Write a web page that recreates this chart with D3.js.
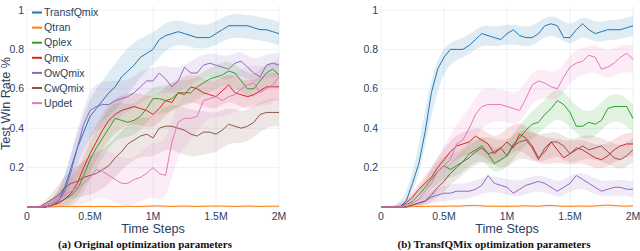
<!DOCTYPE html>
<html>
<head>
<meta charset="utf-8">
<script src="https://cdn.jsdelivr.net/npm/d3@7"></script>
<style>
  body { margin: 0; background: #fff; }
  svg { display: block; font-family: "Liberation Sans", Arial, sans-serif; }
</style>
</head>
<body>
<svg id="chart" width="640" height="251"></svg>
<script>
'use strict';

// time steps in millions, mean sampled every 50k, bands every 100k
const STEPS = d3.range(41).map(i => i * 0.05);
const BAND_STEPS = d3.range(21).map(i => i * 0.1);

const NAMES = ['TransfQmix', 'Qtran', 'Qplex', 'Qmix', 'OwQmix', 'CwQmix', 'Updet'];
const COLORS = ['#1f77b4', '#ff7f0e', '#2ca02c', '#d62728', '#9467bd', '#8c564b', '#e377c2'];
const X_TICKS = [0, 0.5, 1, 1.5, 2];
const X_TICK_LABELS = ['0', '0.5M', '1M', '1.5M', '2M'];
const Y_TICKS = [0.2, 0.4, 0.6, 0.8, 1];

// (a) original optimization parameters
const origTransfQmix = [0,0,0,0,.01,.03,.10,.20,.30,.38,.46,.50,.54,.58,.61,.66,.69,.72,.76,.78,.80,.85,.87,.88,.89,.88,.87,.86,.86,.86,.88,.90,.92,.92,.92,.92,.91,.90,.90,.89,.88];
const origQtran = [0,0,0,0,0,.002,.002,.003,.002,.003,.003,.002,.003,.003,.002,.003,.004,.003,.003,.004,.005,.006,.004,.003,.004,.005,.004,.003,.004,.005,.004,.005,.004,.003,.004,.005,.004,.003,.004,.004,.004];
const origQplex = [0,0,0,0,.01,.02,.04,.06,.09,.16,.24,.30,.35,.40,.45,.44,.43,.44,.46,.50,.55,.55,.54,.55,.58,.58,.58,.61,.63,.65,.66,.67,.69,.68,.64,.60,.60,.64,.68,.70,.67];
const origQmix = [0,0,0,0,.01,.02,.04,.07,.12,.20,.27,.33,.39,.44,.47,.49,.50,.51,.50,.49,.47,.50,.54,.53,.58,.57,.61,.60,.58,.57,.56,.59,.62,.58,.57,.56,.57,.59,.61,.61,.61];
const origOwQmix = [0,0,0,0,.01,.03,.08,.18,.30,.42,.49,.51,.52,.52,.54,.55,.56,.58,.61,.64,.64,.68,.65,.61,.64,.71,.68,.68,.72,.73,.72,.71,.70,.73,.74,.71,.68,.66,.72,.73,.72];
const origCwQmix = [0,0,0,.02,.04,.06,.10,.12,.13,.15,.16,.17,.19,.21,.25,.28,.32,.34,.36,.37,.35,.40,.41,.41,.40,.39,.37,.36,.38,.38,.37,.39,.42,.41,.40,.41,.43,.47,.48,.48,.48];
const origUpdet = [0,0,0,.01,.02,.04,.06,.08,.10,.12,.15,.19,.18,.16,.14,.12,.12,.14,.15,.17,.20,.17,.16,.33,.43,.45,.45,.46,.54,.55,.56,.54,.56,.57,.60,.62,.63,.58,.60,.62,.66];

const origTransfQmixBand = [0,0,.01,.05,.08,.10,.10,.12,.12,.10,.08,.07,.06,.06,.06,.06,.06,.06,.06,.06,.06];
const origQtranBand = [0,0,.003,.003,.003,.003,.003,.003,.003,.003,.003,.003,.003,.003,.003,.003,.003,.003,.003,.003,.003];
const origQplexBand = [0,0,.02,.05,.08,.10,.10,.10,.08,.08,.07,.07,.07,.06,.06,.06,.06,.06,.06,.06,.06];
const origQmixBand = [0,0,.02,.05,.08,.09,.09,.09,.08,.08,.08,.07,.07,.07,.07,.07,.07,.07,.07,.07,.07];
const origOwQmixBand = [0,0,.02,.06,.10,.12,.12,.10,.08,.08,.07,.07,.06,.06,.06,.06,.06,.06,.06,.06,.06];
const origCwQmixBand = [0,0,.03,.06,.08,.10,.10,.10,.10,.10,.10,.11,.12,.12,.11,.10,.09,.08,.08,.07,.07];
const origUpdetBand = [0,0,.02,.06,.10,.12,.12,.12,.12,.12,.14,.15,.14,.12,.10,.10,.10,.10,.10,.10,.10];

// (b) TransfQMix optimization parameters
const tunedTransfQmix = [0,0,0,0,.03,.12,.22,.38,.58,.70,.76,.80,.80,.80,.82,.85,.88,.87,.86,.85,.88,.90,.87,.86,.86,.88,.92,.93,.92,.86,.86,.90,.93,.90,.88,.89,.90,.90,.90,.91,.92];
const tunedQtran = [0,0,0,0,0,.002,.003,.003,.004,.004,.004,.005,.004,.006,.008,.008,.006,.004,.004,.004,.004,.004,.005,.006,.005,.004,.007,.008,.006,.004,.004,.004,.005,.004,.005,.008,.010,.008,.005,.004,.006];
const tunedQplex = [0,0,0,0,.01,.03,.06,.10,.14,.18,.21,.19,.21,.23,.27,.29,.31,.27,.22,.24,.26,.32,.35,.39,.42,.43,.47,.50,.54,.52,.48,.41,.41,.43,.42,.44,.50,.51,.51,.51,.45];
const tunedQmix = [0,0,0,0,.02,.05,.09,.12,.15,.20,.24,.28,.31,.32,.33,.36,.34,.32,.27,.30,.33,.30,.37,.35,.31,.25,.28,.33,.29,.25,.27,.30,.29,.27,.25,.24,.26,.29,.31,.32,.32];
const tunedOwQmix = [0,0,0,0,0,.01,.02,.03,.05,.06,.07,.07,.08,.08,.08,.09,.11,.16,.12,.11,.10,.07,.09,.11,.12,.13,.12,.10,.08,.10,.12,.16,.14,.12,.10,.08,.09,.10,.10,.09,.09];
const tunedCwQmix = [0,0,0,0,0,.01,.02,.03,.06,.10,.13,.17,.20,.23,.25,.28,.30,.27,.28,.30,.26,.31,.33,.34,.30,.24,.30,.33,.33,.31,.27,.29,.31,.29,.30,.31,.28,.25,.24,.26,.29];
const tunedUpdet = [0,0,0,0,.01,.02,.04,.08,.12,.18,.21,.24,.32,.34,.40,.47,.51,.52,.52,.52,.51,.50,.49,.55,.62,.64,.63,.61,.60,.66,.71,.73,.74,.77,.76,.70,.71,.73,.76,.78,.75];

const tunedTransfQmixBand = [0,0,.02,.08,.10,.06,.05,.05,.05,.05,.05,.05,.05,.05,.05,.05,.05,.05,.05,.05,.05];
const tunedQtranBand = [0,0,.003,.003,.004,.004,.004,.005,.004,.004,.004,.004,.004,.005,.004,.004,.004,.004,.005,.004,.004];
const tunedQplexBand = [0,0,.01,.03,.05,.06,.06,.06,.06,.06,.06,.07,.07,.07,.08,.07,.07,.07,.07,.07,.07];
const tunedQmixBand = [0,0,.01,.03,.05,.06,.06,.06,.07,.07,.07,.07,.07,.07,.06,.06,.06,.06,.06,.06,.06];
const tunedOwQmixBand = [0,0,.01,.02,.03,.04,.04,.04,.04,.04,.04,.04,.04,.04,.04,.04,.04,.04,.04,.04,.04];
const tunedCwQmixBand = [0,0,.01,.02,.04,.05,.06,.06,.06,.07,.07,.07,.07,.07,.06,.06,.06,.06,.06,.06,.06];
const tunedUpdetBand = [0,0,.02,.04,.08,.10,.10,.10,.10,.08,.08,.08,.08,.07,.07,.07,.07,.07,.07,.07,.07];

const ORIG = {
  means: [origTransfQmix, origQtran, origQplex, origQmix, origOwQmix, origCwQmix, origUpdet],
  bands: [origTransfQmixBand, origQtranBand, origQplexBand, origQmixBand, origOwQmixBand, origCwQmixBand, origUpdetBand]
};
const TUNED = {
  means: [tunedTransfQmix, tunedQtran, tunedQplex, tunedQmix, tunedOwQmix, tunedCwQmix, tunedUpdet],
  bands: [tunedTransfQmixBand, tunedQtranBand, tunedQplexBand, tunedQmixBand, tunedOwQmixBand, tunedCwQmixBand, tunedUpdetBand]
};

const TEXT_COLOR = '#2a3f5f';
const GRID_COLOR = '#ebf0f8';
const svg = d3.select('#chart');

/**
 * One subplot: grid, shaded bands, mean lines, ticks, titles.
 */
function drawPanel(data, opts) {
  const x = d3.scaleLinear().domain([0, 2]).range([opts.left, opts.right]);
  const y = d3.scaleLinear().domain([0, 1]).range([207, 10]);
  const g = svg.append('g');

  // grid
  g.selectAll('.vgrid').data(X_TICKS).enter().append('line')
    .attr('x1', d => x(d)).attr('x2', d => x(d))
    .attr('y1', y(0)).attr('y2', y(1.02))
    .attr('stroke', GRID_COLOR).attr('stroke-width', 1);
  g.selectAll('.hgrid').data([0].concat(Y_TICKS)).enter().append('line')
    .attr('x1', opts.left).attr('x2', opts.right)
    .attr('y1', d => y(d)).attr('y2', d => y(d))
    .attr('stroke', GRID_COLOR).attr('stroke-width', 1);

  // bands
  data.bands.forEach((band, k) => {
    const mean = data.means[k];
    const area = d3.area()
      .x((d, j) => x(BAND_STEPS[j]))
      .y0((d, j) => y(Math.max(0, mean[j * 2] - d)))
      .y1((d, j) => y(Math.min(1, mean[j * 2] + d)))
      .curve(d3.curveBasis);
    g.append('path').datum(band)
      .attr('d', area)
      .attr('fill', COLORS[k]).attr('fill-opacity', 0.14);
  });

  // mean lines
  data.means.forEach((mean, k) => {
    const line = d3.line()
      .x((d, j) => x(STEPS[j]))
      .y(d => y(d));
    g.append('path').datum(mean)
      .attr('d', line)
      .attr('fill', 'none')
      .attr('stroke', COLORS[k]).attr('stroke-width', 1)
      .attr('stroke-linejoin', 'round');
  });

  // x tick labels
  g.selectAll('.xtick').data(X_TICKS).enter().append('text')
    .attr('x', d => x(d)).attr('y', 219.5)
    .attr('text-anchor', 'middle')
    .attr('font-size', 10.5).attr('fill', TEXT_COLOR)
    .text((d, i) => X_TICK_LABELS[i]);

  // y tick labels
  g.selectAll('.ytick').data(Y_TICKS).enter().append('text')
    .attr('x', opts.left - 3).attr('y', d => y(d)).attr('dy', '0.35em')
    .attr('text-anchor', 'end')
    .attr('font-size', 10.5).attr('fill', TEXT_COLOR)
    .text(d => d3.format('~g')(d));

  // axis title
  g.append('text')
    .attr('x', (opts.left + opts.right) / 2).attr('y', 232.5)
    .attr('text-anchor', 'middle')
    .attr('font-size', 12.7).attr('fill', TEXT_COLOR)
    .text('Time Steps');

  // caption below panel (the source crop cuts it; keep it just inside)
  g.append('text')
    .attr('x', opts.captionX).attr('y', 248)
    .attr('text-anchor', 'middle')
    .attr('font-family', '"Liberation Serif", "Times New Roman", serif')
    .attr('font-weight', 'bold')
    .attr('font-size', 11)
    .attr('fill', '#111')
    .text(opts.caption);

  return g;
} // drawPanel

function drawLegend() {
  const g = svg.append('g');
  const item = g.selectAll('g').data(NAMES).enter().append('g')
    .attr('transform', (d, i) => 'translate(32,' + (12.5 + i * 15.1) + ')');
  item.append('line')
    .attr('x1', 0).attr('x2', 10)
    .attr('stroke', (d, i) => COLORS[i]).attr('stroke-width', 2);
  item.append('text')
    .attr('x', 12).attr('dy', '0.35em')
    .attr('font-size', 10.6).attr('fill', TEXT_COLOR)
    .text(d => d);
} // drawLegend

drawPanel(ORIG, { left: 27, right: 279, captionX: 145, caption: '(a) Original optimization parameters' });
drawPanel(TUNED, { left: 381, right: 633, captionX: 494, caption: '(b) TransfQMix optimization parameters' });
drawLegend();

// y title only on the left panel
svg.append('text')
  .attr('transform', 'translate(6,103.5) rotate(-90)')
  .attr('dy', '0.35em')
  .attr('text-anchor', 'middle')
  .attr('font-size', 12.6).attr('fill', TEXT_COLOR)
  .text('Test Win Rate %');
</script>
</body>
</html>
